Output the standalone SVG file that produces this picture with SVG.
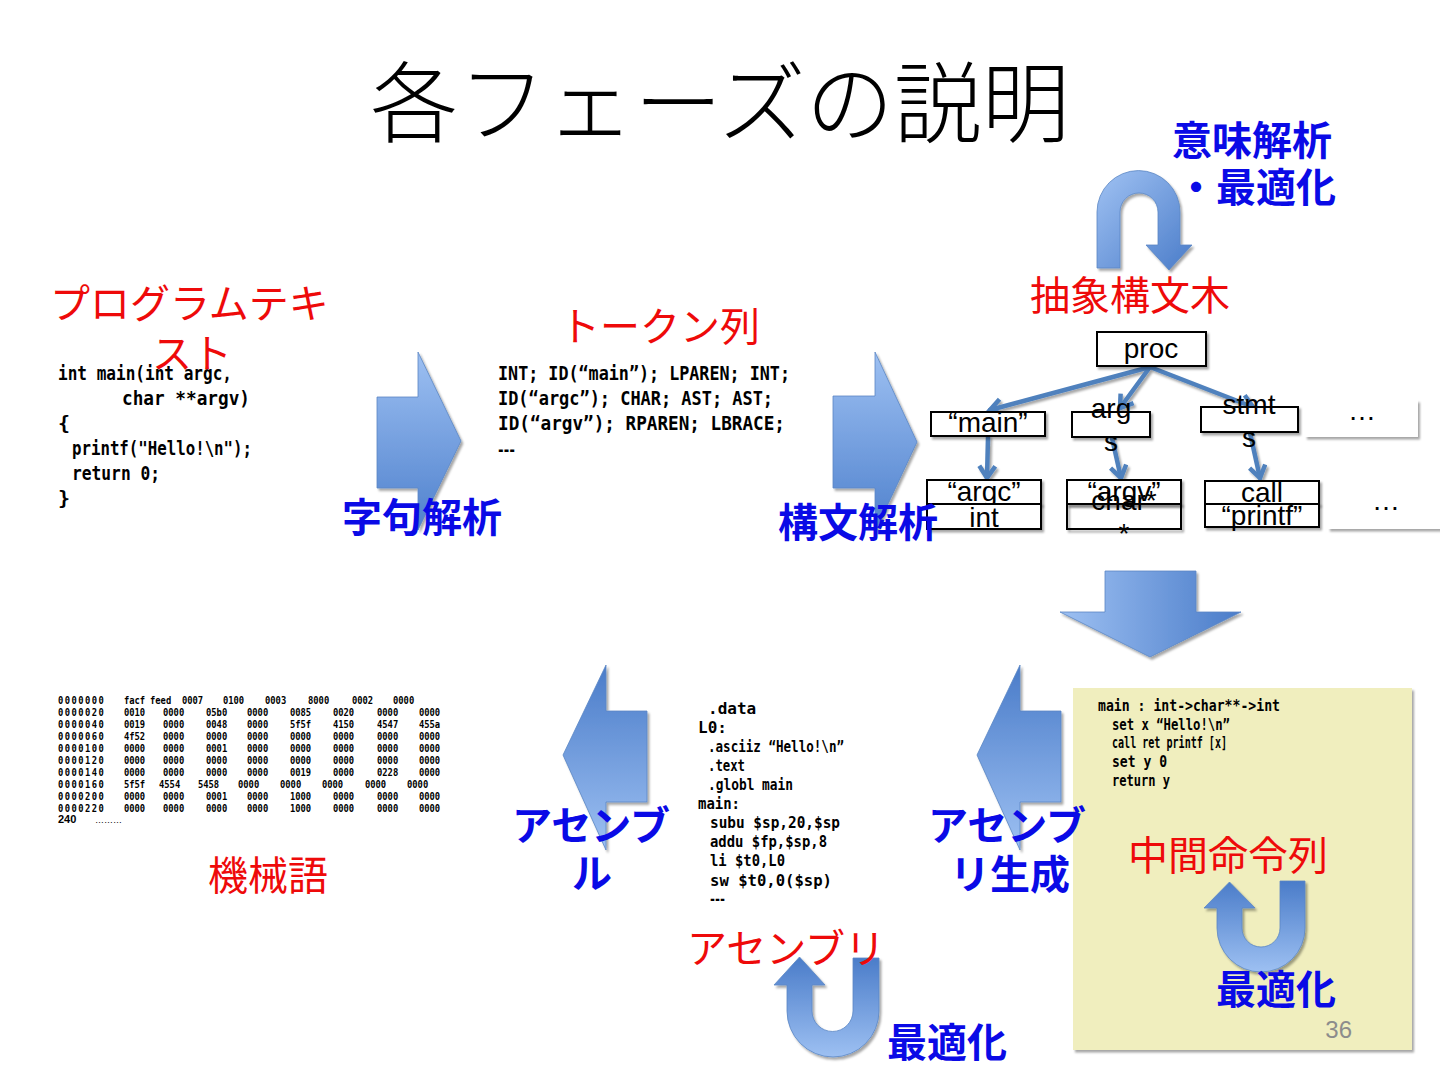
<svg xmlns="http://www.w3.org/2000/svg" width="1440" height="1080" viewBox="0 0 1440 1080">
<style>
.title{font-family:"Noto Sans CJK JP","Noto Sans",sans-serif;font-size:88px;font-weight:300;fill:#000}
.red{font-family:"Noto Sans CJK JP","Noto Sans",sans-serif;font-size:40px;fill:#ee0a0a}
.blue{font-family:"Noto Sans CJK JP","Noto Sans",sans-serif;font-size:40px;font-weight:bold;fill:#0a0ae6}
.bluen{font-family:"Noto Sans CJK JP","Noto Sans",sans-serif;font-size:40px;font-weight:bold;fill:#0a0ae6}
.code{font-family:"DejaVu Sans Mono",monospace;font-weight:bold;fill:#000}
.mc{font-family:"DejaVu Sans Mono",monospace;font-weight:bold;font-size:11px;fill:#000}
.ast{font-family:"Liberation Sans",Arial,sans-serif;font-size:28px;fill:#000;text-anchor:middle}
.box{fill:#fff;stroke:#000;stroke-width:2}
.edge{fill:none;stroke:#4f81bd;stroke-width:4.5;stroke-linecap:round}
</style>
<defs>
<filter id="sh" x="-20%" y="-20%" width="150%" height="150%"><feDropShadow dx="2" dy="2.5" stdDeviation="1.2" flood-color="#000" flood-opacity="0.35"/></filter>
<linearGradient id="gV" x1="0" y1="0" x2="0" y2="1"><stop offset="0" stop-color="#9dc0f2"/><stop offset="1" stop-color="#4f81cd"/></linearGradient>
<linearGradient id="gVr" x1="0" y1="0" x2="0" y2="1"><stop offset="0" stop-color="#4a7cc9"/><stop offset="1" stop-color="#9dc0f2"/></linearGradient>
<linearGradient id="gH" x1="0" y1="0" x2="1" y2="0"><stop offset="0" stop-color="#9dc0f2"/><stop offset="1" stop-color="#4a7cc9"/></linearGradient>
<linearGradient id="gD" x1="0" y1="0" x2="1" y2="1"><stop offset="0" stop-color="#a0c2f3"/><stop offset="1" stop-color="#4a7cc9"/></linearGradient>
<marker id="ah" markerUnits="userSpaceOnUse" markerWidth="24" markerHeight="24" refX="14" refY="10" orient="auto" viewBox="0 0 24 24"><path d="M2,2 L14,10 L2,18" fill="none" stroke="#4f81bd" stroke-width="4.5" stroke-linejoin="miter"/></marker>
</defs>
<rect width="1440" height="1080" fill="#fff"/>

<text class="title" x="720" y="135" text-anchor="middle">各フェーズの説明</text>

<!-- yellow intermediate box -->
<rect id="ir-bg" x="1073" y="688" width="339" height="362" fill="#f0eebe" filter="url(#sh)"/>

<!-- big arrows -->
<g id="arrows" filter="url(#sh)">
<polygon id="arrow-lex" points="377,397 418,397 418,352 461,441 418,530 418,488 377,488" fill="url(#gV)" stroke="#5b86c4" stroke-width="0.8"/>
<polygon id="arrow-parse" points="833,396 875,396 875,352 917,442 875,532 875,488 833,488" fill="url(#gV)" stroke="#5b86c4" stroke-width="0.8"/>
<polygon id="arrow-down" points="1105,571 1196,571 1196,612 1241,612 1150,657 1060,612 1105,612" fill="url(#gH)" stroke="#5b86c4" stroke-width="0.8"/>
<polygon id="arrow-asm" points="647,711 606,711 606,665 563,755 606,850 606,802 647,802" fill="url(#gVr)" stroke="#5b86c4" stroke-width="0.8"/>
<polygon id="arrow-gen" points="1061,711 1020,711 1020,665 977,755 1020,850 1020,802 1061,802" fill="url(#gVr)" stroke="#5b86c4" stroke-width="0.8"/>
<path id="uturn-sem" d="M1097,268 L1097,212 A41.5,41.5 0 0 1 1180,212 L1180,245 L1192,245 L1169,270 L1146,245 L1158,245 L1158,212 A19,19 0 0 0 1120,212 L1120,268 Z" fill="url(#gD)" stroke="#5b86c4" stroke-width="0.8"/>
<path id="uturn-asm" d="M879,958 L879,1011 A46,46 0 0 1 787,1011 L787,985 L774,985 L799.5,957 L825,985 L812,985 L812,1011 A20.5,20.5 0 0 0 853,1011 L853,958 Z" fill="url(#gVr)" stroke="#5b86c4" stroke-width="0.8"/>
<path id="uturn-ir" d="M1305,881 L1305,928 A44,44 0 0 1 1217,928 L1217,908 L1204,908 L1229.5,882 L1255,908 L1242,908 L1242,928 A19,19 0 0 0 1280,928 L1280,881 Z" fill="url(#gVr)" stroke="#5b86c4" stroke-width="0.8"/>
</g>

<!-- source code -->
<g id="source" class="code" font-size="20">
<text x="58" y="380" textLength="174" lengthAdjust="spacingAndGlyphs">int main(int argc,</text>
<text x="122" y="405" textLength="128" lengthAdjust="spacingAndGlyphs">char **argv)</text>
<text x="58" y="430">{</text>
<text x="72" y="455" textLength="180" lengthAdjust="spacingAndGlyphs">printf("Hello!\n");</text>
<text x="72" y="480" textLength="88" lengthAdjust="spacingAndGlyphs">return 0;</text>
<text x="58" y="505">}</text>
</g>

<!-- tokens -->
<g id="tokens" class="code" font-size="20">
<text x="498" y="380" textLength="292" lengthAdjust="spacingAndGlyphs">INT; ID(“main”); LPAREN; INT;</text>
<text x="498" y="405" textLength="275" lengthAdjust="spacingAndGlyphs">ID(“argc”); CHAR; AST; AST;</text>
<text x="498" y="430" textLength="287" lengthAdjust="spacingAndGlyphs">ID(“argv”); RPAREN; LBRACE;</text>
<text x="498" y="452" font-size="14" textLength="17" lengthAdjust="spacingAndGlyphs">…</text>
</g>

<!-- AST -->
<g id="ast-connectors">
<g filter="url(#sh)">
<line class="edge" x1="1150" y1="367" x2="990" y2="410" marker-end="url(#ah)"/>
<line class="edge" x1="1150" y1="367" x2="1120" y2="408" marker-end="url(#ah)"/>
<line class="edge" x1="1150" y1="367" x2="1253" y2="407" marker-end="url(#ah)"/>
<line class="edge" x1="988" y1="437" x2="987" y2="478" marker-end="url(#ah)"/>
<line class="edge" x1="1112" y1="438" x2="1121" y2="478" marker-end="url(#ah)"/>
<line class="edge" x1="1250" y1="433" x2="1260" y2="478" marker-end="url(#ah)"/>
</g>
</g>

<g id="node-proc"><rect class="box" x="1097" y="332" width="109" height="34" filter="url(#sh)"/><text class="ast" x="1151" y="358">proc</text></g>
<g id="node-main"><rect class="box" x="931" y="412" width="114" height="24" filter="url(#sh)"/><text class="ast" x="988" y="432">“main”</text></g>
<g id="node-args"><rect class="box" x="1072" y="412" width="78" height="25" filter="url(#sh)"/><text class="ast" x="1111" y="418">arg</text><text class="ast" x="1111" y="451">s</text></g>
<g id="node-stmts"><rect class="box" x="1201" y="407" width="97" height="25" filter="url(#sh)"/><text class="ast" x="1249" y="414">stmt</text><text class="ast" x="1249" y="447">s</text></g>
<g id="node-more1"><rect x="1305" y="400" width="113" height="37" fill="#fff" filter="url(#sh)"/><text class="ast" x="1362" y="420">…</text></g>
<g id="node-argc"><rect class="box" x="927" y="480" width="114" height="24" filter="url(#sh)"/><text class="ast" x="984" y="501">“argc”</text><rect class="box" x="927" y="504" width="114" height="25" filter="url(#sh)"/><text class="ast" x="984" y="527">int</text></g>
<g id="node-argv"><rect class="box" x="1067" y="480" width="114" height="24" filter="url(#sh)"/><text class="ast" x="1124" y="501">“argv”</text><rect class="box" x="1067" y="504" width="114" height="25" filter="url(#sh)" style="fill:none"/><text class="ast" x="1124" y="510">char*</text><text class="ast" x="1124" y="543">*</text></g>
<g id="node-call"><rect class="box" x="1205" y="481" width="114" height="23" filter="url(#sh)"/><text class="ast" x="1262" y="502">call</text><rect class="box" x="1205" y="504" width="114" height="23" filter="url(#sh)"/><text class="ast" x="1262" y="525">“printf”</text></g>
<g id="node-more2"><rect x="1328" y="490" width="116" height="39" fill="#fff" filter="url(#sh)"/><text class="ast" x="1386" y="510">…</text></g>

<!-- machine code -->
<g id="machine" transform="scale(0.8,1)">
<text class="mc" y="704"><tspan x="72.5" letter-spacing="1.8">0000000</tspan><tspan x="155">facf</tspan><tspan x="187.5">feed</tspan><tspan x="227.5">0007</tspan><tspan x="278.75">0100</tspan><tspan x="331.25">0003</tspan><tspan x="385">8000</tspan><tspan x="440">0002</tspan><tspan x="491.25">0000</tspan></text>
<text class="mc" y="716"><tspan x="72.5" letter-spacing="1.8">0000020</tspan><tspan x="155">0010</tspan><tspan x="203.75">0000</tspan><tspan x="257.5">05b0</tspan><tspan x="308.75">0000</tspan><tspan x="362.5">0085</tspan><tspan x="416.25">0020</tspan><tspan x="471.25">0000</tspan><tspan x="523.75">0000</tspan></text>
<text class="mc" y="728"><tspan x="72.5" letter-spacing="1.8">0000040</tspan><tspan x="155">0019</tspan><tspan x="203.75">0000</tspan><tspan x="257.5">0048</tspan><tspan x="308.75">0000</tspan><tspan x="362.5">5f5f</tspan><tspan x="416.25">4150</tspan><tspan x="471.25">4547</tspan><tspan x="523.75">455a</tspan></text>
<text class="mc" y="740"><tspan x="72.5" letter-spacing="1.8">0000060</tspan><tspan x="155">4f52</tspan><tspan x="203.75">0000</tspan><tspan x="257.5">0000</tspan><tspan x="308.75">0000</tspan><tspan x="362.5">0000</tspan><tspan x="416.25">0000</tspan><tspan x="471.25">0000</tspan><tspan x="523.75">0000</tspan></text>
<text class="mc" y="752"><tspan x="72.5" letter-spacing="1.8">0000100</tspan><tspan x="155">0000</tspan><tspan x="203.75">0000</tspan><tspan x="257.5">0001</tspan><tspan x="308.75">0000</tspan><tspan x="362.5">0000</tspan><tspan x="416.25">0000</tspan><tspan x="471.25">0000</tspan><tspan x="523.75">0000</tspan></text>
<text class="mc" y="764"><tspan x="72.5" letter-spacing="1.8">0000120</tspan><tspan x="155">0000</tspan><tspan x="203.75">0000</tspan><tspan x="257.5">0000</tspan><tspan x="308.75">0000</tspan><tspan x="362.5">0000</tspan><tspan x="416.25">0000</tspan><tspan x="471.25">0000</tspan><tspan x="523.75">0000</tspan></text>
<text class="mc" y="776"><tspan x="72.5" letter-spacing="1.8">0000140</tspan><tspan x="155">0000</tspan><tspan x="203.75">0000</tspan><tspan x="257.5">0000</tspan><tspan x="308.75">0000</tspan><tspan x="362.5">0019</tspan><tspan x="416.25">0000</tspan><tspan x="471.25">0228</tspan><tspan x="523.75">0000</tspan></text>
<text class="mc" y="788"><tspan x="72.5" letter-spacing="1.8">0000160</tspan><tspan x="155">5f5f</tspan><tspan x="198.75">4554</tspan><tspan x="247.5">5458</tspan><tspan x="297.5">0000</tspan><tspan x="350">0000</tspan><tspan x="402.5">0000</tspan><tspan x="456.25">0000</tspan><tspan x="508.75">0000</tspan></text>
<text class="mc" y="800"><tspan x="72.5" letter-spacing="1.8">0000200</tspan><tspan x="155">0000</tspan><tspan x="203.75">0000</tspan><tspan x="257.5">0001</tspan><tspan x="308.75">0000</tspan><tspan x="362.5">1000</tspan><tspan x="416.25">0000</tspan><tspan x="471.25">0000</tspan><tspan x="523.75">0000</tspan></text>
<text class="mc" y="812"><tspan x="72.5" letter-spacing="1.8">0000220</tspan><tspan x="155">0000</tspan><tspan x="203.75">0000</tspan><tspan x="257.5">0000</tspan><tspan x="308.75">0000</tspan><tspan x="362.5">1000</tspan><tspan x="416.25">0000</tspan><tspan x="471.25">0000</tspan><tspan x="523.75">0000</tspan></text>
</g>
<text x="58" y="823" font-family="Liberation Sans,Arial,sans-serif" font-size="11" font-weight="bold">240</text>
<text x="95" y="823" font-family="Liberation Sans,Arial,sans-serif" font-size="9">………</text>

<!-- assembly -->
<g id="assembly" class="code" font-size="16">
<text x="708" y="714">.data</text>
<text x="698" y="733">L0:</text>
<text x="708" y="752" textLength="136" lengthAdjust="spacingAndGlyphs">.asciiz “Hello!\n”</text>
<text x="708" y="771" textLength="37" lengthAdjust="spacingAndGlyphs">.text</text>
<text x="708" y="790" textLength="85" lengthAdjust="spacingAndGlyphs">.globl main</text>
<text x="698" y="809" textLength="42" lengthAdjust="spacingAndGlyphs">main:</text>
<text x="710" y="828" textLength="130" lengthAdjust="spacingAndGlyphs">subu $sp,20,$sp</text>
<text x="710" y="847" textLength="117" lengthAdjust="spacingAndGlyphs">addu $fp,$sp,8</text>
<text x="710" y="866" textLength="75" lengthAdjust="spacingAndGlyphs">li  $t0,L0</text>
<text x="710" y="886" textLength="122" lengthAdjust="spacingAndGlyphs">sw   $t0,0($sp)</text>
<text x="710" y="901" font-size="13" textLength="15" lengthAdjust="spacingAndGlyphs">…</text>
</g>

<!-- intermediate -->
<g id="intermediate" class="code" font-size="15.5">
<text x="1098" y="711" textLength="182" lengthAdjust="spacingAndGlyphs">main : int->char**->int</text>
<text x="1112" y="730" textLength="118" lengthAdjust="spacingAndGlyphs">set x “Hello!\n”</text>
<text x="1112" y="748" textLength="115" lengthAdjust="spacingAndGlyphs">call ret printf [x]</text>
<text x="1112" y="767" textLength="55" lengthAdjust="spacingAndGlyphs">set y 0</text>
<text x="1112" y="786" textLength="58" lengthAdjust="spacingAndGlyphs">return y</text>
</g>

<!-- labels -->
<g id="labels">
<text class="red" x="50" y="318">プログラムテキ</text>
<text class="red" x="192" y="368" text-anchor="middle">スト</text>
<text class="red" x="560" y="341">トークン列</text>
<text class="red" x="1030" y="310">抽象構文木</text>
<text class="blue" x="1172" y="155">意味解析</text>
<text class="blue" x="1336" y="202" text-anchor="end">・最適化</text>
<text class="blue" x="342" y="532">字句解析</text>
<text class="blue" x="778" y="537">構文解析</text>
<text class="red" x="208" y="890">機械語</text>
<text class="bluen" x="512" y="840">アセンブ</text>
<text class="bluen" x="592" y="888" text-anchor="middle">ル</text>
<text class="bluen" x="928" y="840">アセンブ</text>
<text class="bluen" x="1010" y="889" text-anchor="middle">リ生成</text>
<text class="red" x="1128" y="870">中間命令列</text>
<text class="blue" x="1216" y="1004">最適化</text>
<text class="red" x="687" y="963" font-size="39">アセンブリ</text>
<text class="blue" x="887" y="1057">最適化</text>
<text x="1352" y="1038" text-anchor="end" font-family="Liberation Sans,Arial,sans-serif" font-size="24" fill="#8c8c8c">36</text>
</g>
</svg>
